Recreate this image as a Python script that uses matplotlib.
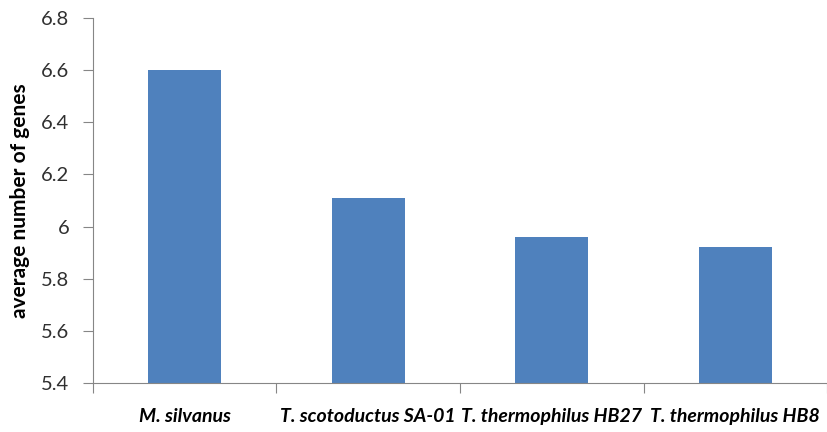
import matplotlib.pyplot as plt
import numpy as np

strains = ["M. silvanus", "T. scotoductus SA-01", "T. thermophilus HB27", "T. thermophilus HB8"]
avg_genes = [6.60, 6.11, 5.96, 5.92]
yticks = [5.4, 5.6, 5.8, 6.0, 6.2, 6.4, 6.6, 6.8]
ytick_labels = ["5.4", "5.6", "5.8", "6", "6.2", "6.4", "6.6", "6.8"]

plt.rcParams['font.family'] = ['Lato', 'DejaVu Sans']
axis_grey = "#868686"

fig = plt.figure(figsize=(8.28, 4.32), dpi=100)
ax = fig.add_axes([0.1123, 0.1134, 0.8865, 0.845])

x = np.arange(len(strains))
ax.bar(x, avg_genes, width=0.4, color="#4F81BD", zorder=2)

ax.set_xlim(-0.5, len(strains) - 0.5)
ax.set_ylim(5.4, 6.8)
ax.set_yticks(yticks)
ax.set_yticklabels(ytick_labels, fontsize=14.5, color="#303030")

# category ticks sit between the bars, labels centred under them
ax.set_xticks(np.arange(len(strains) + 1) - 0.5)
ax.set_xticklabels([])
ax.set_xticks(x, minor=True)
ax.set_xticklabels(strains, minor=True, fontsize=14, fontweight="bold", style="italic")
ax.tick_params(axis="x", which="minor", length=0, pad=18)
ax.tick_params(axis="x", which="major", length=7, color=axis_grey, direction="out")
ax.tick_params(axis="y", length=7, color=axis_grey, direction="out", pad=10)

for side in ["top", "right"]:
    ax.spines[side].set_visible(False)
for side in ["left", "bottom"]:
    ax.spines[side].set_color(axis_grey)

ax.set_ylabel("average number of genes", fontsize=15, fontweight="bold", labelpad=8)

fig.savefig("out.png", dpi=100)
